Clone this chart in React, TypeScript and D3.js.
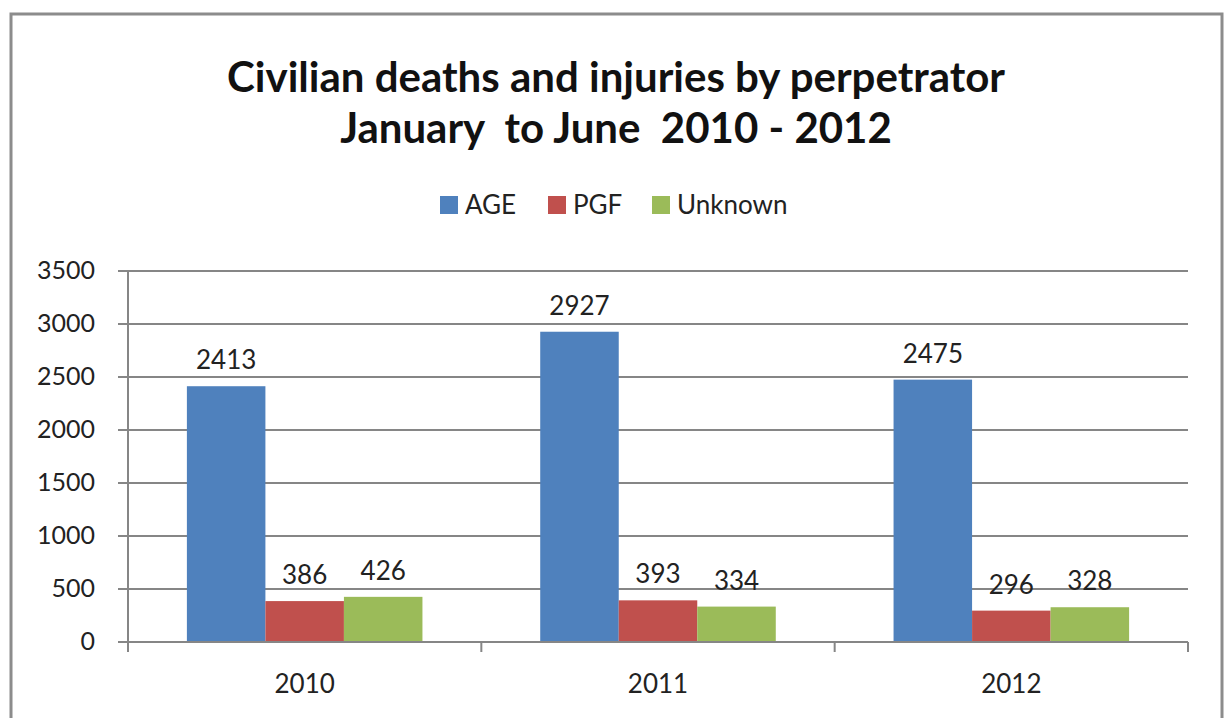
import React from 'react';
import { scaleBand, scaleLinear } from 'd3';

const years = ['2010', '2011', '2012'];
const series = ['AGE', 'PGF', 'Unknown'];
const ageValues = [2413, 2927, 2475];
const pgfValues = [386, 393, 296];
const unknownValues = [426, 334, 328];
const yTicks = [0, 500, 1000, 1500, 2000, 2500, 3000, 3500];
const titleLines = ['Civilian deaths and injuries by perpetrator', 'January  to June  2010 - 2012'];

const colors = ['#4F81BD', '#C0504D', '#9BBB59'];
const font = 'Lato, "Open Sans", sans-serif';

const W = 1227;
const H = 718;
const plot = { left: 128, right: 1188, top: 271, bottom: 642 };

export default function App() {
  const valuesBySeries = [ageValues, pgfValues, unknownValues];

  const x = scaleBand().domain(years).range([plot.left, plot.right]).padding(0);
  const y = scaleLinear().domain([0, 3500]).range([plot.bottom, plot.top]);

  // excel style: gap width 150% -> 3 bars + 1.5 bars of gap per category
  const barW = x.bandwidth() / 4.5;
  const inner = scaleBand().domain(series).range([0, barW * 3]);

  const legendItems = [
    { name: 'AGE', x: 465 },
    { name: 'PGF', x: 573 },
    { name: 'Unknown', x: 677 },
  ];

  return (
    <svg width={W} height={H} style={{ position: 'absolute', left: 0, top: 0 }}>
      <rect x={0} y={0} width={W} height={H} fill="#fff" />
      <rect x={11} y={14} width={1211} height={720} fill="#fff" stroke="#8c8c8c" strokeWidth={3} />

      {titleLines.map((t, i) => (
        <text key={i} x={616} y={92 + i * 51} textAnchor="middle" fontFamily={font}
          fontWeight="bold" fontSize={42} fill="#111" style={{ whiteSpace: 'pre' }}>{t}</text>
      ))}

      {/* legend */}
      {legendItems.map((d, i) => (
        <g key={d.name}>
          <rect x={d.x - 25} y={196} width={18} height={18} fill={colors[i]} />
          <text x={d.x} y={214} fontFamily={font} fontSize={26} fill="#222">{d.name}</text>
        </g>
      ))}

      {/* gridlines */}
      {yTicks.map(t => (
        <g key={t}>
          {t > 0 && <line x1={plot.left} x2={plot.right} y1={y(t)} y2={y(t)} stroke="#868686" strokeWidth={2} />}
          <line x1={plot.left - 10} x2={plot.left} y1={y(t)} y2={y(t)} stroke="#868686" strokeWidth={2} />
          <text x={95} y={y(t) + 8} textAnchor="end" fontFamily={font} fontSize={25} fill="#222">{t}</text>
        </g>
      ))}

      {/* bars */}
      {years.map((yr, yi) => (
        <g key={yr} transform={`translate(${(x(yr) as number) + barW * 0.75},0)`}>
          {series.map((s, si) => {
            const v = valuesBySeries[si][yi];
            const bx = inner(s) as number;
            return (
              <g key={s}>
                <rect x={bx} y={y(v)} width={inner.bandwidth()} height={plot.bottom - y(v)} fill={colors[si]} />
                <text x={bx + inner.bandwidth() / 2} y={y(v) - 17} textAnchor="middle"
                  fontFamily={font} fontSize={26} fill="#222">{v}</text>
              </g>
            );
          })}
        </g>
      ))}

      {/* axes */}
      <line x1={plot.left} x2={plot.left} y1={plot.top} y2={plot.bottom + 10} stroke="#868686" strokeWidth={2} />
      <line x1={plot.left} x2={plot.right} y1={plot.bottom} y2={plot.bottom} stroke="#868686" strokeWidth={2} />
      {[...years.map(d => x(d) as number), plot.right].map((px, i) => (
        <line key={i} x1={px} x2={px} y1={plot.bottom} y2={plot.bottom + 10} stroke="#868686" strokeWidth={2} />
      ))}
      {years.map(yr => (
        <text key={yr} x={(x(yr) as number) + x.bandwidth() / 2} y={693} textAnchor="middle"
          fontFamily={font} fontSize={26} fill="#222">{yr}</text>
      ))}
    </svg>
  );
}
